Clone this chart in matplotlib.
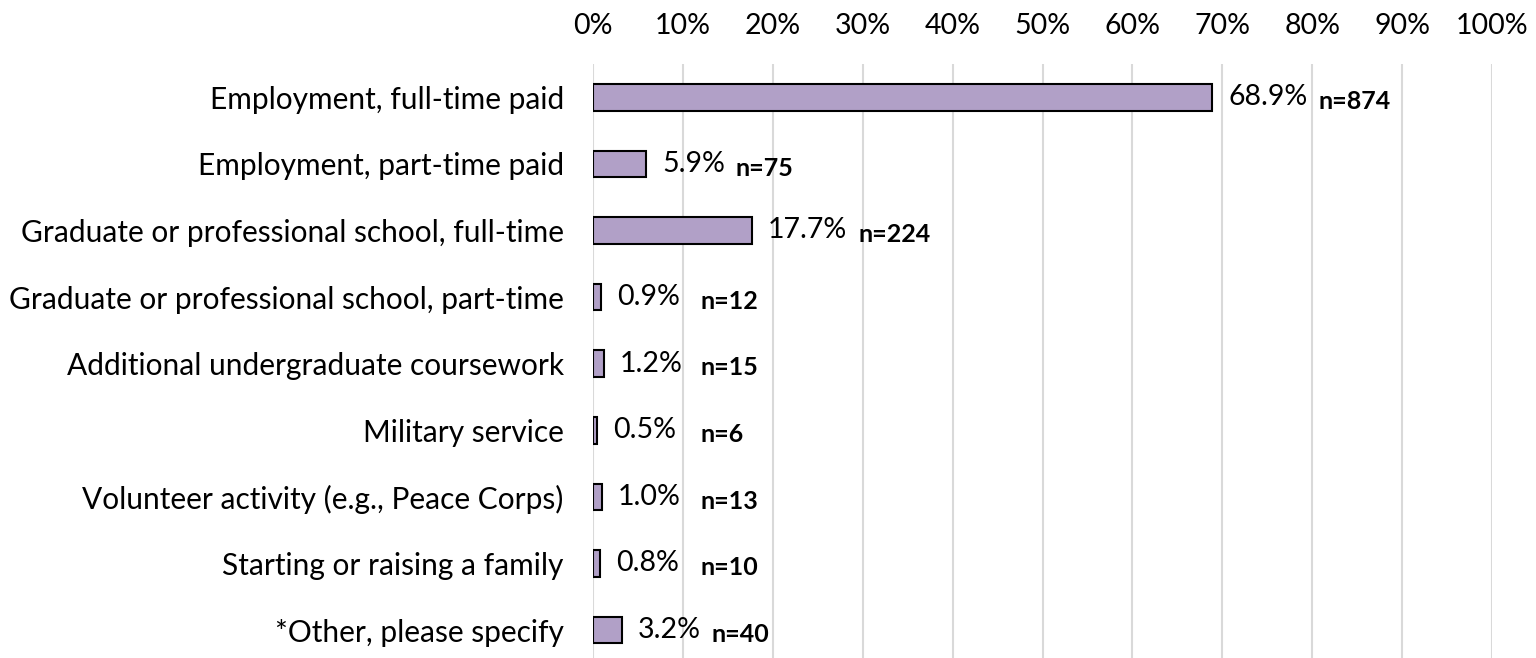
import numpy as np
import matplotlib.pyplot as plt

plt.rcParams['font.family'] = ['Lato', 'DejaVu Sans']

categories = ['Employment, full-time paid',
              'Employment, part-time paid',
              'Graduate or professional school, full-time',
              'Graduate or professional school, part-time',
              'Additional undergraduate coursework',
              'Military service',
              'Volunteer activity (e.g., Peace Corps)',
              'Starting or raising a family',
              '*Other, please specify']
pct = [68.9, 5.9, 17.7, 0.9, 1.2, 0.5, 1.0, 0.8, 3.2]
counts = [874, 75, 224, 12, 15, 6, 13, 10, 40]
xticks = np.arange(0, 101, 10)

fig = plt.figure(figsize=(15.36, 6.58), dpi=100)
ax = fig.add_axes([593/1536, 0, 899/1536, 594/658])

y = np.arange(len(categories))
ax.barh(y, pct, height=0.4, color='#b1a0c7', edgecolor='black', linewidth=1.5, zorder=3)

ax.set_xlim(0, 100)
ax.set_ylim(8.42, -0.5)
ax.set_xticks(xticks)
ax.set_xticklabels([f'{t}%' for t in xticks], fontsize=20.5)
ax.xaxis.tick_top()
ax.tick_params(axis='x', length=0, pad=18)
ax.set_yticks(y)
ax.set_yticklabels(categories, fontsize=21.5)
ax.tick_params(axis='y', length=0, pad=21)
ax.grid(axis='x', color='#d9d9d9', linewidth=1.5, zorder=0)
for s in ax.spines.values():
    s.set_visible(False)

labels = []
for yi, v in zip(y, pct):
    t = ax.annotate(f'{v:.1f}%', (v, yi), xytext=(11.5, 0), textcoords='offset points',
                    ha='left', va='center', fontsize=20.5)
    labels.append(t)

# n labels sit just right of the percent label, but not left of ~12%
fig.canvas.draw()
r = fig.canvas.get_renderer()
inv = ax.transData.inverted()
for t, yi, n in zip(labels, y, counts):
    x1 = t.get_window_extent(r).x1 + 11
    xd = max(inv.transform((x1, 0))[0], 12.0)
    ax.annotate(f'n={n}', (xd, yi), xytext=(0, -3), textcoords='offset points',
                ha='left', va='center', fontsize=18, fontweight='bold')

plt.savefig('out.png', dpi=100)
